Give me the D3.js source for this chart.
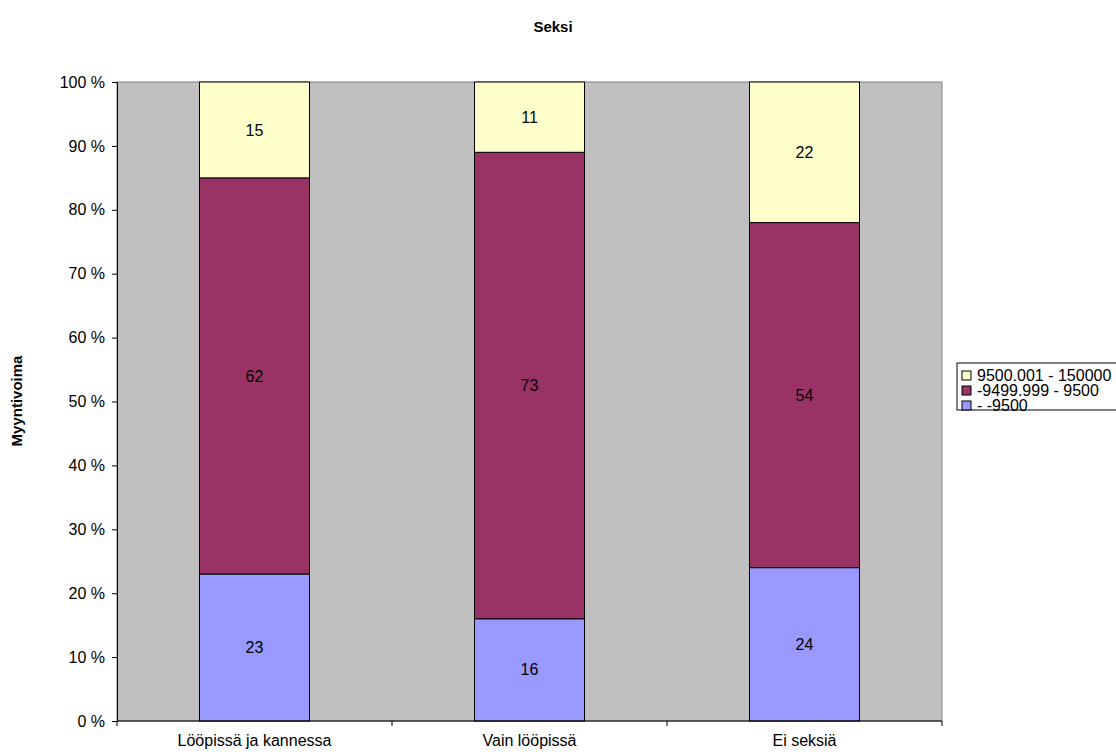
<!DOCTYPE html>
<html>
<head>
<meta charset="utf-8">
<script src="https://cdn.jsdelivr.net/npm/d3@7"></script>
<style>
  html, body { margin: 0; padding: 0; background: #fff; }
  svg { display: block; font-family: "Liberation Sans", Arial, sans-serif; }
</style>
</head>
<body>
<svg id="chart" width="1116" height="756"></svg>
<script>
// Categories and stacked series (share of respondents, %)
const categories = ["Lööpissä ja kannessa", "Vain lööpissä", "Ei seksiä"];
const seriesNames = ["- -9500", "-9499.999 - 9500", "9500.001 - 150000"];
const lowValues = [23, 16, 24];
const midValues = [62, 73, 54];
const highValues = [15, 11, 22];
const seriesColors = ["#9999FF", "#993366", "#FFFFCC"];
const yTicks = [0, 10, 20, 30, 40, 50, 60, 70, 80, 90, 100];

const svg = d3.select("#chart");
const plot = { left: 117, right: 942, top: 82, bottom: 721 };
const fs = 16;

const rows = categories.map((c, i) => ({
  cat: c,
  [seriesNames[0]]: lowValues[i],
  [seriesNames[1]]: midValues[i],
  [seriesNames[2]]: highValues[i]
}));

const stack = d3.stack().keys(seriesNames).offset(d3.stackOffsetExpand);
const layers = stack(rows);

const x = d3.scaleBand().domain(categories).range([plot.left, plot.right]).padding(0);
const y = d3.scaleLinear().domain([0, 1]).range([plot.bottom, plot.top]);
const color = d3.scaleOrdinal().domain(seriesNames).range(seriesColors);
const barW = x.bandwidth() * 0.4;

// Plot area background
svg.append("rect")
  .attr("x", plot.left).attr("y", plot.top)
  .attr("width", plot.right - plot.left).attr("height", plot.bottom - plot.top)
  .attr("fill", "#C0C0C0").attr("stroke", "#808080").attr("stroke-width", 1);

// Stacked bars
const g = svg.append("g");
layers.forEach(layer => {
  g.selectAll(null).data(layer).enter().append("rect")
    .attr("x", d => x(d.data.cat) + (x.bandwidth() - barW) / 2)
    .attr("y", d => y(d[1]))
    .attr("width", barW)
    .attr("height", d => y(d[0]) - y(d[1]))
    .attr("fill", color(layer.key))
    .attr("stroke", "#000").attr("stroke-width", 1);
  g.selectAll(null).data(layer).enter().append("text")
    .attr("x", d => x(d.data.cat) + x.bandwidth() / 2)
    .attr("y", d => (y(d[0]) + y(d[1])) / 2)
    .attr("dy", "0.35em")
    .attr("text-anchor", "middle")
    .attr("font-size", fs)
    .text(d => d.data[layer.key]);
});

// Y axis
const yAxis = d3.axisLeft(y).tickValues(yTicks.map(v => v / 100))
  .tickFormat(d => Math.round(d * 100) + " %").tickSize(5).tickPadding(7);
const ya = svg.append("g").attr("transform", `translate(${plot.left},0)`).call(yAxis);
ya.select(".domain").attr("stroke", "#000");
ya.selectAll(".tick line").attr("stroke", "#000");
ya.selectAll("text").attr("font-size", fs).attr("fill", "#000")
  .style("font-family", "'Liberation Sans', Arial, sans-serif");

// X axis: ticks at category boundaries
const xa = svg.append("g").attr("transform", `translate(0,${plot.bottom})`);
xa.append("line").attr("x1", plot.left).attr("x2", plot.right).attr("stroke", "#000");
const bounds = categories.map(c => x(c)).concat([plot.right]);
xa.selectAll(null).data(bounds).enter().append("line")
  .attr("x1", d => d).attr("x2", d => d).attr("y1", 0).attr("y2", 5).attr("stroke", "#000");
xa.selectAll(null).data(categories).enter().append("text")
  .attr("x", d => x(d) + x.bandwidth() / 2).attr("y", 25)
  .attr("text-anchor", "middle").attr("font-size", fs).text(d => d);

// Titles
svg.append("text").attr("x", 553).attr("y", 32).attr("text-anchor", "middle")
  .attr("font-size", 15).attr("font-weight", "bold").text("Seksi");
svg.append("text").attr("transform", "translate(22,401) rotate(-90)")
  .attr("text-anchor", "middle").attr("font-size", 15).attr("font-weight", "bold")
  .text("Myyntivoima");

// Legend (top entry is the top of the stack)
const legend = svg.append("g").attr("transform", "translate(957,363)");
legend.append("rect").attr("x", 0).attr("y", 0).attr("width", 200).attr("height", 47)
  .attr("fill", "#fff").attr("stroke", "#000");
const legendOrder = seriesNames.slice().reverse();
const li = legend.selectAll(null).data(legendOrder).enter().append("g")
  .attr("transform", (d, i) => `translate(5,${8 + i * 15})`);
li.append("rect").attr("width", 9).attr("height", 9)
  .attr("fill", d => color(d)).attr("stroke", "#000");
li.append("text").attr("x", 15).attr("y", 4.5).attr("dy", "0.35em")
  .attr("font-size", fs).text(d => d);
</script>
</body>
</html>
